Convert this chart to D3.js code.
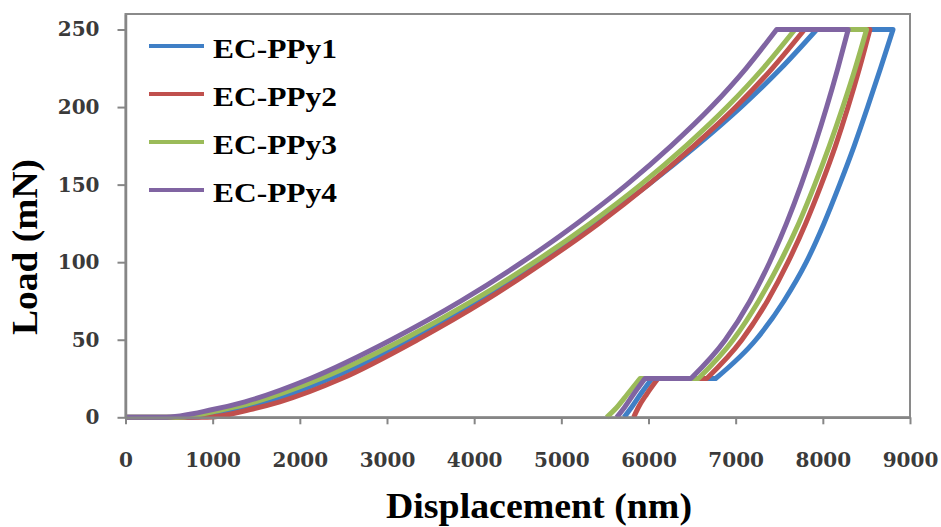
<!DOCTYPE html>
<html>
<head>
<meta charset="utf-8">
<script src="https://cdn.jsdelivr.net/npm/d3@7"></script>
<style>
  body { margin: 0; background: #fff; }
  svg { display: block; }
</style>
</head>
<body>
<div id="chart"></div>
<script>
// series names and colours
var seriesNames = ['EC-PPy1', 'EC-PPy2', 'EC-PPy3', 'EC-PPy4'];
var seriesColors = ['#3f7fc6', '#c0504d', '#9bbb59', '#8064a2'];

// tick labels
var xTicks = [0, 1000, 2000, 3000, 4000, 5000, 6000, 7000, 8000, 9000];
var yTicks = [0, 50, 100, 150, 200, 250];

// loading branch: load (mN) and displacement (nm) per series
var loadLevels = [0, 0, 5, 10, 25, 50, 75, 100, 125, 150, 175, 200, 225, 250];
var loadPPy1 = [0, 760, 1280, 1630, 2350, 3270, 4060, 4760, 5400, 6000, 6550, 7060, 7520, 7930];
var loadPPy2 = [0, 940, 1430, 1770, 2480, 3350, 4120, 4800, 5430, 6000, 6520, 7000, 7420, 7790];
var loadPPy3 = [0, 600, 1120, 1490, 2240, 3180, 3980, 4690, 5330, 5910, 6430, 6900, 7315, 7680];
var loadPPy4 = [0, 430, 1000, 1370, 2120, 3050, 3850, 4550, 5180, 5750, 6260, 6720, 7120, 7470];

// unloading branch, from the top hold down to the 25 mN hold
var unloadLevels = [250, 225, 200, 175, 150, 125, 100, 75, 50, 25];
var unloadPPy1 = [8805, 8662, 8514, 8360, 8192, 8013, 7810, 7554, 7232, 6770];
var unloadPPy2 = [8540, 8420, 8289, 8145, 7982, 7803, 7600, 7364, 7072, 6669];
var unloadPPy3 = [8502, 8372, 8229, 8075, 7907, 7723, 7510, 7264, 6972, 6573];
var unloadPPy4 = [8291, 8172, 8044, 7905, 7752, 7583, 7390, 7164, 6882, 6487];

// final unloading after the 25 mN hold
var tailLevels = [25, 15, 6, 0];
var tailPPy1 = [6040, 5910, 5800, 5720];
var tailPPy2 = [6109, 5980, 5880, 5830];
var tailPPy3 = [5903, 5760, 5630, 5520];
var tailPPy4 = [5960, 5830, 5720, 5635];

var loadData = [loadPPy1, loadPPy2, loadPPy3, loadPPy4];
var unloadData = [unloadPPy1, unloadPPy2, unloadPPy3, unloadPPy4];
var tailData = [tailPPy1, tailPPy2, tailPPy3, tailPPy4];

var svgWidth = 941;
var svgHeight = 527;
var fontSerif = '"Liberation Serif", "Times New Roman", serif';

var xScale = d3.scaleLinear().domain([0, 9000]).range([125.5, 910]);
var yScale = d3.scaleLinear().domain([0, 260]).range([417.3, 14]);

var chart = d3.select('#chart')
  .append('svg')
  .attr('width', svgWidth)
  .attr('height', svgHeight);

chart.append('rect')
  .attr('width', svgWidth)
  .attr('height', svgHeight)
  .attr('fill', '#fff');

// plot area border
chart.append('rect')
  .attr('x', xScale(0))
  .attr('y', yScale(260))
  .attr('width', xScale(9000) - xScale(0))
  .attr('height', yScale(0) - yScale(260))
  .attr('fill', 'none')
  .attr('stroke', '#8a8a8a')
  .attr('stroke-width', 2);

// build one path per series: loading, hold, unloading, hold, final unloading
var line = d3.line()
  .x(function(d) { return xScale(d[0]); })
  .y(function(d) { return yScale(d[1]); })
  .curve(d3.curveMonotoneX);

function seriesPath(i) {
  var load = loadData[i].map(function(v, j) { return [v, loadLevels[j]]; });
  var unload = unloadData[i].map(function(v, j) { return [v, unloadLevels[j]]; });
  var tail = tailData[i].map(function(v, j) { return [v, tailLevels[j]]; });
  return line(load) + line(unload).replace(/^M/, 'L') + line(tail).replace(/^M/, 'L');
}

chart.append('g')
  .selectAll('path')
  .data(seriesNames)
  .enter()
  .append('path')
  .attr('d', function(d, i) { return seriesPath(i); })
  .attr('fill', 'none')
  .attr('stroke', function(d, i) { return seriesColors[i]; })
  .attr('stroke-width', 5)
  .attr('stroke-linejoin', 'round');

// axes
var xAxis = chart.append('g')
  .attr('transform', 'translate(0,' + yScale(0) + ')')
  .call(d3.axisBottom(xScale).tickValues(xTicks).tickFormat(d3.format('d'))
    .tickSize(7).tickSizeOuter(0));

var yAxis = chart.append('g')
  .attr('transform', 'translate(' + xScale(0) + ',0)')
  .call(d3.axisLeft(yScale).tickValues(yTicks).tickFormat(d3.format('d'))
    .tickSize(8).tickSizeOuter(0).tickPadding(18));

[xAxis, yAxis].forEach(function(ax) {
  ax.select('.domain').attr('stroke', '#868686').attr('stroke-width', 2.5);
  ax.selectAll('.tick line').attr('stroke', '#868686').attr('stroke-width', 2);
  ax.selectAll('.tick text')
    .attr('fill', '#3a3a3a')
    .style('font-family', '"DejaVu Serif", serif')
    .style('font-weight', 'bold')
    .style('font-size', '20px');
});

xAxis.selectAll('.tick text').attr('y', 50).attr('dy', 0);

// axis titles
chart.append('text')
  .attr('x', 539)
  .attr('y', 518)
  .attr('text-anchor', 'middle')
  .attr('textLength', 306)
  .attr('lengthAdjust', 'spacingAndGlyphs')
  .style('font-family', fontSerif)
  .style('font-weight', 'bold')
  .style('font-size', '36px')
  .text('Displacement (nm)');

chart.append('text')
  .attr('transform', 'translate(37,247) rotate(-90)')
  .attr('text-anchor', 'middle')
  .attr('textLength', 176)
  .attr('lengthAdjust', 'spacingAndGlyphs')
  .style('font-family', fontSerif)
  .style('font-weight', 'bold')
  .style('font-size', '36px')
  .text('Load (mN)');

// legend
var legend = chart.append('g')
  .selectAll('g')
  .data(seriesNames)
  .enter()
  .append('g')
  .attr('transform', function(d, i) { return 'translate(149,' + (46 + i * 48) + ')'; });

legend.append('line')
  .attr('x1', 0)
  .attr('x2', 55)
  .attr('stroke', function(d, i) { return seriesColors[i]; })
  .attr('stroke-width', 4);

legend.append('text')
  .attr('x', 64)
  .attr('y', 12)
  .attr('textLength', 124)
  .attr('lengthAdjust', 'spacingAndGlyphs')
  .style('font-family', fontSerif)
  .style('font-weight', 'bold')
  .style('font-size', '27px')
  .text(function(d) { return d; });
</script>
</body>
</html>
